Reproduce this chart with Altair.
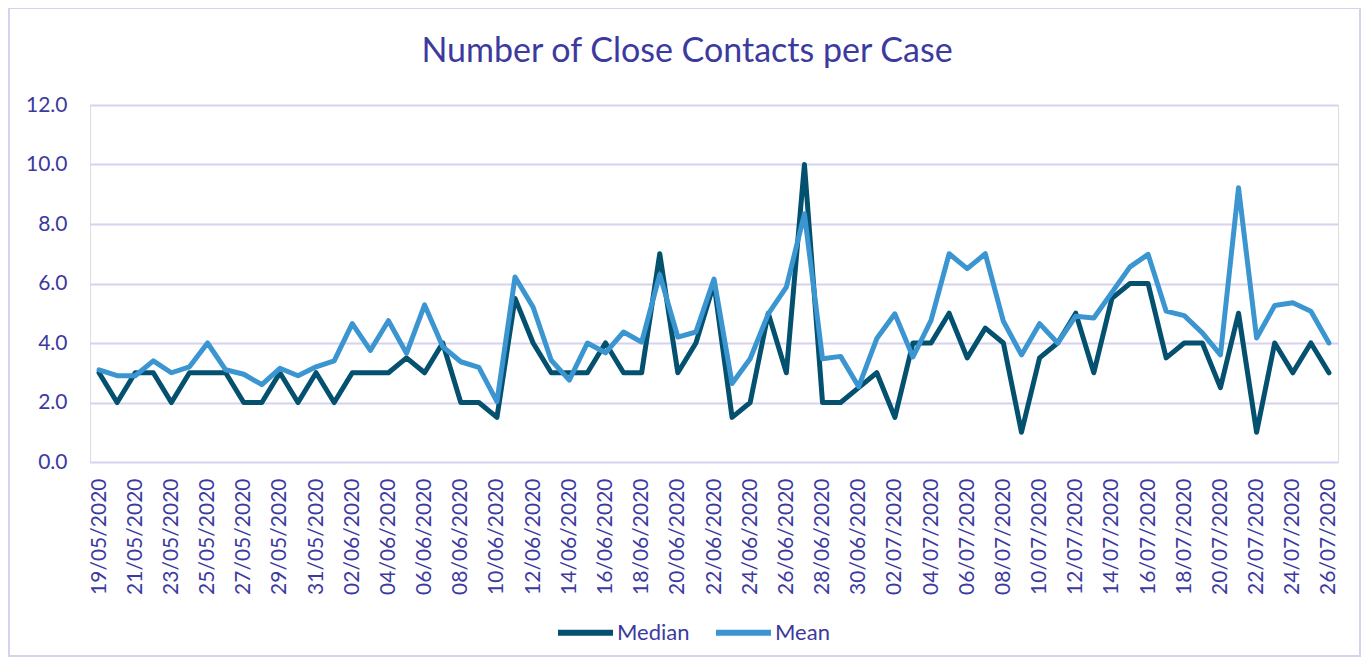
import altair as alt
import pandas as pd

dates = [
    "19/05/2020", "20/05/2020", "21/05/2020", "22/05/2020", "23/05/2020", "24/05/2020",
    "25/05/2020", "26/05/2020", "27/05/2020", "28/05/2020", "29/05/2020", "30/05/2020",
    "31/05/2020", "01/06/2020", "02/06/2020", "03/06/2020", "04/06/2020", "05/06/2020",
    "06/06/2020", "07/06/2020", "08/06/2020", "09/06/2020", "10/06/2020", "11/06/2020",
    "12/06/2020", "13/06/2020", "14/06/2020", "15/06/2020", "16/06/2020", "17/06/2020",
    "18/06/2020", "19/06/2020", "20/06/2020", "21/06/2020", "22/06/2020", "23/06/2020",
    "24/06/2020", "25/06/2020", "26/06/2020", "27/06/2020", "28/06/2020", "29/06/2020",
    "30/06/2020", "01/07/2020", "02/07/2020", "03/07/2020", "04/07/2020", "05/07/2020",
    "06/07/2020", "07/07/2020", "08/07/2020", "09/07/2020", "10/07/2020", "11/07/2020",
    "12/07/2020", "13/07/2020", "14/07/2020", "15/07/2020", "16/07/2020", "17/07/2020",
    "18/07/2020", "19/07/2020", "20/07/2020", "21/07/2020", "22/07/2020", "23/07/2020",
    "24/07/2020", "25/07/2020", "26/07/2020",
]

median = [
    3, 2, 3, 3, 2, 3, 3, 3, 2, 2,
    3, 2, 3, 2, 3, 3, 3, 3.5, 3, 4,
    2, 2, 1.5, 5.5, 4, 3, 3, 3, 4, 3,
    3, 7, 3, 4, 6, 1.5, 2, 5, 3, 10,
    2, 2, 2.5, 3, 1.5, 4, 4, 5, 3.5, 4.5,
    4, 1, 3.5, 4, 5, 3, 5.5, 6, 6, 3.5,
    4, 4, 2.5, 5, 1, 4, 3, 4, 3,
]

mean = [
    3.1, 2.9, 2.9, 3.4, 3.0, 3.2, 4.0, 3.1, 2.95, 2.6,
    3.15, 2.9, 3.2, 3.4, 4.65, 3.75, 4.75, 3.65, 5.28, 3.88,
    3.37, 3.18, 2.03, 6.22, 5.2, 3.42, 2.75, 4.0, 3.67, 4.37,
    4.03, 6.3, 4.2, 4.37, 6.15, 2.64, 3.47, 4.98, 5.88, 8.34,
    3.47, 3.55, 2.53, 4.15, 4.98, 3.53, 4.76, 7.0, 6.5, 7.0,
    4.73, 3.6, 4.65, 4.0, 4.9, 4.84, 5.7, 6.56, 6.98, 5.07,
    4.92, 4.34, 3.6, 9.22, 4.17, 5.26, 5.35, 5.07, 4.0,
]

series_names = ["Median", "Mean"]
series_colors = ["#03506F", "#3A95D0"]
title_text = "Number of Close Contacts per Case"

TEXT = "#3C3A9F"
GRID = "#D6D2F0"
FONT = "Lato"

df_median = pd.DataFrame({"date": dates, "value": median, "series": "Median"})
df_mean = pd.DataFrame({"date": dates, "value": mean, "series": "Mean"})

x_enc = alt.X(
    "date:O",
    sort=dates,
    scale=alt.Scale(type="point", padding=0.5),
    axis=alt.Axis(
        values=dates[::2],
        labelAngle=-90,
        labelPadding=16,
        labelFontSize=21,
        labelColor=TEXT,
        labelFont=FONT,
        domain=False,
        ticks=False,
        grid=False,
        title=None,
    ),
)
y_enc = alt.Y(
    "value:Q",
    scale=alt.Scale(domain=[0, 12], nice=False, zero=True),
    axis=alt.Axis(
        values=[0, 2, 4, 6, 8, 10, 12],
        format=".1f",
        labelPadding=23,
        labelFontSize=21,
        labelColor=TEXT,
        labelFont=FONT,
        domain=False,
        ticks=False,
        grid=True,
        gridColor=GRID,
        gridWidth=2,
        title=None,
    ),
)
color_enc = alt.Color(
    "series:N",
    scale=alt.Scale(domain=series_names, range=series_colors),
    legend=alt.Legend(
        title=None,
        orient="none",
        direction="horizontal",
        legendX=465,
        legendY=497,
        symbolType="stroke",
        symbolSize=3025,
        symbolStrokeWidth=6,
        labelFontSize=22,
        labelFont=FONT,
        labelColor=TEXT,
        labelOffset=1,
        columnPadding=14,
        padding=0,
    ),
)

line_style = dict(strokeWidth=5, strokeJoin="round", strokeCap="round")

median_line = alt.Chart(df_median).mark_line(**line_style).encode(
    x=x_enc, y=y_enc, color=color_enc
)
mean_line = alt.Chart(df_mean).mark_line(**line_style).encode(
    x=x_enc, y=y_enc, color=color_enc
)

border = alt.Chart(pd.DataFrame({"a": [0]})).mark_rect(
    filled=False, stroke=GRID, strokeWidth=2, clip=False
).encode(
    x=alt.value(-81),
    x2=alt.value(1270),
    y=alt.value(-97),
    y2=alt.value(551),
)

title_mark = alt.Chart(pd.DataFrame({"t": [title_text]})).mark_text(
    font=FONT,
    fontSize=34,
    color=TEXT,
    align="center",
    baseline="alphabetic",
    clip=False,
).encode(
    text="t:N",
    x=alt.value(597),
    y=alt.value(-43),
)

chart = (
    alt.layer(median_line, mean_line, border, title_mark)
    .properties(
        width=1248,
        height=357,
        autosize=alt.AutoSizeParams(type="none"),
        padding={"left": 82, "top": 97, "right": 24, "bottom": 196},
    )
    .configure_view(stroke=None)
    .configure(background="white")
)

chart.save("out.html", embed_options={"renderer": "svg", "actions": False})
